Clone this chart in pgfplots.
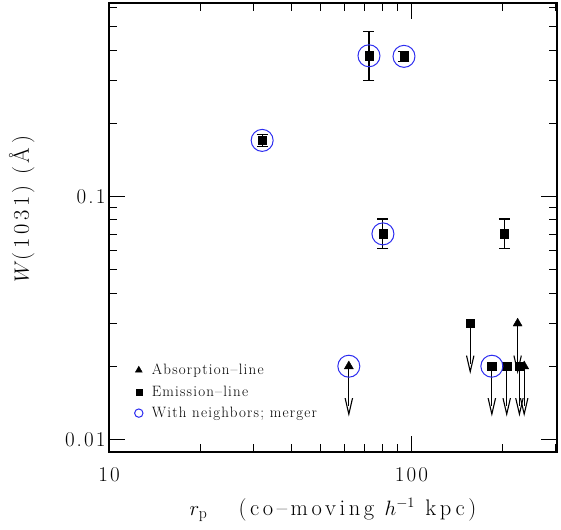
\documentclass[border=0pt]{standalone}
\usepackage{fontspec}
\setmainfont{Latin Modern Roman}[LetterSpace=6]
\newfontfamily\labfont{Latin Modern Roman}[LetterSpace=16]
\newfontfamily\tickfont{Latin Modern Roman}[LetterSpace=10]
\newfontfamily\legfont{Latin Modern Roman}[LetterSpace=8]
\usepackage{pgfplots}
\pgfplotsset{compat=1.18}
\definecolor{circ}{RGB}{45,45,240}
% y error marks are rotated by pgfplots: draw in the rotated frame
\pgfdeclareplotmark{varrow}{%
  \pgfpathmoveto{\pgfqpoint{-16pt}{-3.7pt}}%
  \pgfpathlineto{\pgfqpoint{0pt}{0pt}}%
  \pgfpathlineto{\pgfqpoint{-16pt}{3.7pt}}%
  \pgfusepathqstroke}

\pgfplotstableread{
x y ep em
72.4 0.379 0.097 0.080
94.5 0.377 0.017 0.018
32.1 0.170 0.0095 0.0095
80.5 0.0701 0.0106 0.0093
202.8 0.0701 0.0106 0.0093
}\detections

\pgfplotstableread{
x y em
156.5 0.030 0.0095
184.5 0.020 0.0063
206.6 0.020 0.0063
227.6 0.020 0.0063
}\emislimits

\pgfplotstableread{
x y em
62.1 0.020 0.0063
224.5 0.030 0.0095
236.0 0.020 0.0063
}\abslimits

\pgfplotstableread{
x y
72.4 0.379
94.5 0.377
32.1 0.170
80.5 0.0701
62.1 0.020
184.5 0.020
}\neighbors

\begin{document}
\begin{tikzpicture}
\begin{axis}[
  name=ax,
  xmode=log, ymode=log,
  scale only axis,
  width=448pt, height=449pt,
  xmin=10, xmax=303,
  ymin=0.00887, ymax=0.625,
  xtick={10,100}, xticklabels={10,100},
  minor xtick={20,30,40,50,60,70,80,90,200,300},
  ytick={0.01,0.1}, yticklabels={0.01,0.1},
  minor ytick={0.02,0.03,0.04,0.05,0.06,0.07,0.08,0.09,0.2,0.3,0.4,0.5,0.6},
  major tick length=16pt, minor tick length=8pt,
  tick style={line width=0.9pt, black},
  axis line style={line width=1.4pt},
  /pgf/number format/assume math mode=true,
  ticklabel style={font=\tickfont\fontsize{21}{24}\selectfont},
  xticklabel style={anchor=center, yshift=-23pt},
  xlabel={$r_{\rm p}$\ \ \ (co\textendash moving $h^{-1}$ kpc)},
  ylabel={$W$(1031) (\AA)},
  label style={font=\labfont\fontsize{22.5}{24}\selectfont},
  xlabel style={at={(axis description cs:0.5,-0.129)}, anchor=center},
  ylabel style={at={(axis description cs:-0.195,0.541)}, anchor=center},
  legend style={draw=none, fill=none, font=\legfont\fontsize{15}{17}\selectfont,
    at={(rel axis cs:0.05,0.205)}, anchor=north west, row sep=5.5pt},
  legend cell align=left,
  legend image code/.code={\path[draw=none,fill=none] (0pt,-3pt) rectangle (15pt,3pt);
    \draw[mark repeat=2,mark phase=2,#1] plot coordinates {(0pt,0pt)(4pt,0pt)(8pt,0pt)};},
]
\addlegendimage{only marks, mark=triangle*, mark size=4pt, black}
\addlegendentry{Absorption\textendash line}
\addlegendimage{only marks, mark=square*, mark size=3pt, black}
\addlegendentry{Emission\textendash line}
\addlegendimage{only marks, mark=o, mark size=4.2pt, circ, line width=1pt}
\addlegendentry{With neighbors; merger}

% detections with error bars
\addplot[forget plot, only marks, mark=square*, mark size=4.2pt, black,
  error bars/.cd, y dir=both, y explicit,
  error bar style={line width=1.1pt, black},
  error mark=|,
  error mark options={line width=1.1pt, mark size=5.5pt, black}]
  table[x=x, y=y, y error plus=ep, y error minus=em] {\detections};

% emission upper limits
\addplot[forget plot, only marks, mark=square*, mark size=4.2pt, black,
  error bars/.cd, y dir=minus, y explicit,
  error bar style={line width=1.1pt, black},
  error mark=varrow,
  error mark options={line width=1.1pt, black}]
  table[x=x, y=y, y error minus=em] {\emislimits};

% absorption upper limits
\addplot[forget plot, only marks, mark=triangle*, mark size=5.2pt, black,
  error bars/.cd, y dir=minus, y explicit,
  error bar style={line width=1.1pt, black},
  error mark=varrow,
  error mark options={line width=1.1pt, black}]
  table[x=x, y=y, y error minus=em] {\abslimits};

% neighbors circles
\addplot[forget plot, only marks, mark=o, mark size=11pt, circ, line width=1pt]
  table[x=x, y=y] {\neighbors};
\end{axis}
\pgfresetboundingbox
\path ([xshift=-109pt,yshift=-77pt]ax.south west) rectangle ([xshift=4pt,yshift=3pt]ax.north east);
\end{tikzpicture}
\end{document}
